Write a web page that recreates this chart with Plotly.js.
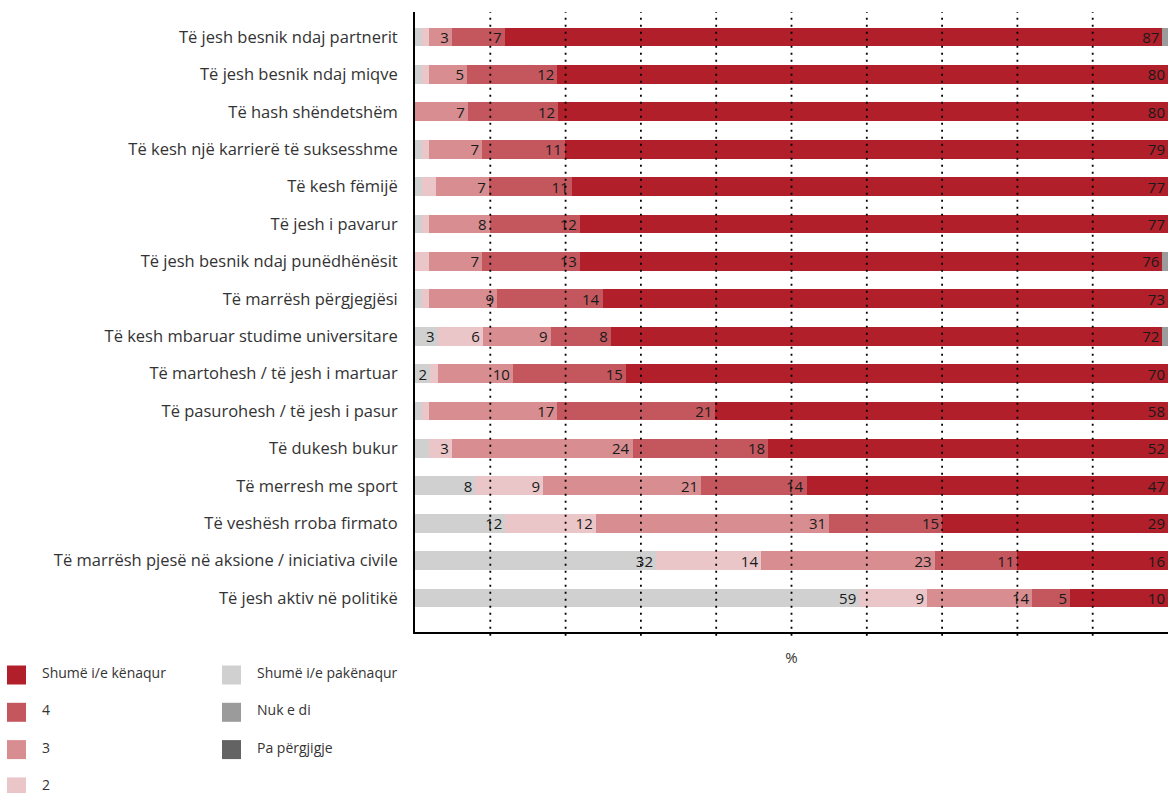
<!DOCTYPE html>
<html>
<head>
<meta charset="utf-8">
<script src="https://cdn.plot.ly/plotly-3.0.1.min.js"></script>
<style>html,body{margin:0;padding:0;background:#fff;}#chart{width:1168px;height:793px;}</style>
</head>
<body>
<div id="chart"></div>
<script>
// ---- data (top to bottom) ----
const categories = [
  "Të jesh besnik ndaj partnerit",
  "Të jesh besnik ndaj miqve",
  "Të hash shëndetshëm",
  "Të kesh një karrierë të suksesshme",
  "Të kesh fëmijë",
  "Të jesh i pavarur",
  "Të jesh besnik ndaj punëdhënësit",
  "Të marrësh përgjegjësi",
  "Të kesh mbaruar studime universitare",
  "Të martohesh / të jesh i martuar",
  "Të pasurohesh / të jesh i pasur",
  "Të dukesh bukur",
  "Të merresh me sport",
  "Të veshësh rroba firmato",
  "Të marrësh pjesë në aksione / iniciativa civile",
  "Të jesh aktiv në politikë"
];
const seriesNames = ["Shumë i/e pakënaqur", "2", "3", "4", "Shumë i/e kënaqur", "Nuk e di", "Pa përgjigje"];
const seriesColors = ["#d0d0d0", "#ebc6c9", "#d88d91", "#c4575e", "#b01f2a", "#9b9b9b", "#636363"];

const vPakenaqur = [0.9, 0.9, 0, 0.9, 0.9, 0.9, 0, 0.9, 3, 2, 0.9, 1.9, 8, 12, 32, 59];
const v2         = [1, 1, 0, 1, 1.9, 1, 1.9, 1, 6, 1, 1, 3, 9, 12, 14, 9];
const v3         = [3, 5, 7, 7, 7, 8, 7, 9, 9, 10, 17, 24, 21, 31, 23, 14];
const v4         = [7, 12, 12, 11, 11, 12, 13, 14, 8, 15, 21, 18, 14, 15, 11, 5];
const vKenaqur   = [87, 80, 80, 79, 77, 77, 76, 73, 72, 70, 58, 52, 47, 29, 16, 10];
const vNukEDi    = [0.75, 0, 0, 0, 0, 0, 0.75, 0, 0.75, 0, 0, 0, 0, 0, 0, 0];
const vPaPergj   = [0, 0, 0, 0, 0, 0, 0, 0, 0, 0, 0, 0, 0, 0, 0, 0];

const gridTicks = [10, 20, 30, 40, 50, 60, 70, 80, 90];

// ---- build traces ----
const label = arr => arr.map(v => (v >= 2 ? String(Math.round(v)) : ""));
// In the source graphic the "Shumë i/e kënaqur" bar fills the row up to 100 %,
// while its label shows the reported value.
const kenaqurDrawn = vKenaqur.map((v, i) =>
  100 - (vPakenaqur[i] + v2[i] + v3[i] + v4[i] + vNukEDi[i] + vPaPergj[i]));

const seriesVals = [vPakenaqur, v2, v3, v4, kenaqurDrawn, vNukEDi, vPaPergj];
const seriesRaw  = [vPakenaqur, v2, v3, v4, vKenaqur, vNukEDi, vPaPergj];

const FONT = "Open Sans, Noto Sans, sans-serif";

const traces = seriesVals.map((vals, k) => ({
  type: "bar",
  orientation: "h",
  name: seriesNames[k],
  y: categories,
  x: vals,
  width: 0.5,
  customdata: seriesRaw[k],
  text: label(seriesRaw[k]),
  textposition: "inside",
  insidetextanchor: "end",
  constraintext: "none",
  textangle: 0,
  textfont: {family: FONT, size: 15, color: "#1a1a1a"},
  marker: {color: seriesColors[k], line: {width: 0}},
  hovertemplate: "%{y}<br>" + seriesNames[k] + ": %{customdata}<extra></extra>",
  showlegend: false
}));

// ---- manual legend (two columns) ----
const legendCols = [[4, 3, 2, 1], [0, 5, 6]];
const plotL = 415, plotW = 753, plotT = 12, plotH = 620;
const px2x = px => (px - plotL) / plotW;
const px2y = py => (plotT + plotH - py) / plotH;
const shapes = [];
const annotations = [];
const colX = [7, 222];
legendCols.forEach((col, c) => {
  col.forEach((k, r) => {
    const cy = 675 + r * 37.3;
    shapes.push({
      type: "rect", xref: "paper", yref: "paper", layer: "above",
      x0: px2x(colX[c]), x1: px2x(colX[c] + 19),
      y0: px2y(cy - 9.5), y1: px2y(cy + 9.5),
      fillcolor: seriesColors[k], line: {width: 0}
    });
    const ann = {
      xref: "paper", yref: "paper", x: px2x(colX[c] + 33), y: px2y(cy - 2.5),
      xanchor: "left", yanchor: "middle", showarrow: false,
      text: seriesNames[k],
      font: {family: FONT, size: 14, color: "#333"}
    };
    if (r === 3) ann.height = 16; // keep the bottom row inside the page
    annotations.push(ann);
  });
});
// dotted grid lines drawn above the bars, as in the source
gridTicks.forEach(t => shapes.push({
  type: "line", xref: "x", yref: "paper", layer: "above",
  x0: t, x1: t, y0: -0.006, y1: 1,
  line: {color: "#000", width: 1.8, dash: "2px,5px"}
}));

const layout = {
  width: 1168, height: 793,
  margin: {l: 415, r: 0, t: 12, b: 161, pad: 0},
  paper_bgcolor: "#fff", plot_bgcolor: "#fff",
  barmode: "stack",
  font: {family: FONT, color: "#333"},
  xaxis: {
    range: [0, 100], showticklabels: false, ticks: "", showgrid: false, zeroline: false,
    showline: true, linecolor: "#000", linewidth: 2, fixedrange: true,
    title: {text: "%", font: {size: 15, color: "#333"}, standoff: 19}
  },
  yaxis: {
    type: "category", categoryorder: "array", categoryarray: categories,
    range: [15.91, -0.67], showgrid: false, zeroline: false, ticks: "",
    showline: true, linecolor: "#000", linewidth: 2, fixedrange: true,
    ticklabelstandoff: 12,
    tickfont: {family: FONT, size: 16.5, color: "#333"}
  },
  shapes: shapes,
  annotations: annotations,
  showlegend: false
};

Plotly.newPlot("chart", traces, layout, {displayModeBar: false, responsive: false});
</script>
</body>
</html>
